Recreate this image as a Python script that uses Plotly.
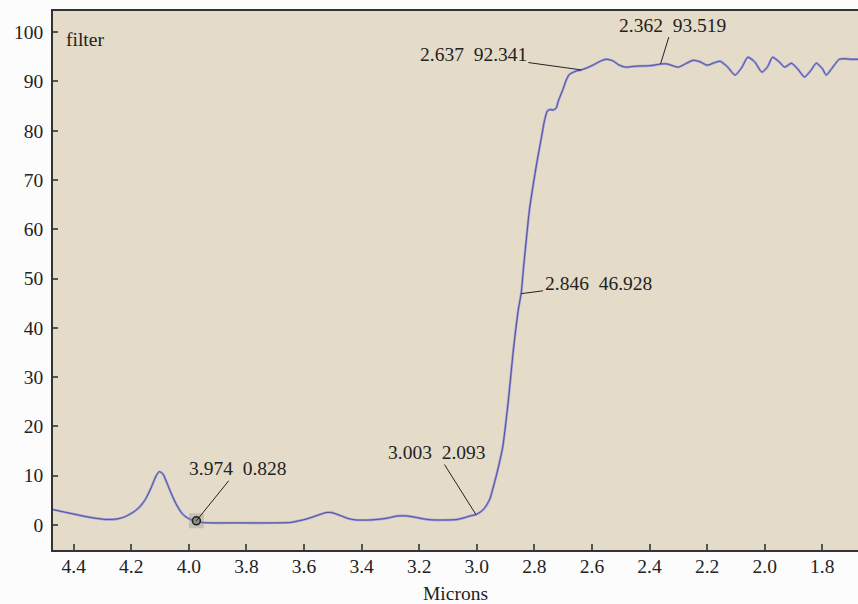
import plotly.graph_objects as go

# ---- data ----
wavelength = [
    4.472, 4.44, 4.40, 4.36, 4.33, 4.29, 4.25, 4.22, 4.19, 4.17,
    4.15, 4.13, 4.115, 4.103, 4.09, 4.079, 4.06, 4.045, 4.025, 4.01,
    3.99, 3.974, 3.955, 3.93, 3.83, 3.70, 3.645, 3.62, 3.597, 3.56,
    3.524, 3.505, 3.493, 3.47, 3.448, 3.42, 3.369, 3.33, 3.30, 3.276,
    3.241, 3.21, 3.183, 3.15, 3.10, 3.069, 3.04, 3.024, 3.003, 2.985,
    2.973, 2.955, 2.945, 2.93, 2.91, 2.89, 2.873, 2.855, 2.846, 2.838,
    2.817, 2.793, 2.776, 2.765, 2.755, 2.745, 2.735, 2.724, 2.717, 2.70,
    2.69, 2.679, 2.66, 2.648, 2.637, 2.62, 2.597, 2.575, 2.552, 2.528,
    2.505, 2.483, 2.45, 2.40, 2.362, 2.345, 2.335, 2.30, 2.275, 2.248,
    2.225, 2.20, 2.175, 2.155, 2.13, 2.103, 2.08, 2.059, 2.035, 2.01,
    1.99, 1.973, 1.95, 1.931, 1.907, 1.885, 1.862, 1.84, 1.821, 1.80,
    1.786, 1.765, 1.741, 1.72, 1.70, 1.676,
]
transmission = [
    3.1, 2.7, 2.2, 1.7, 1.4, 1.1, 1.2, 1.7, 2.7, 3.7,
    5.3, 7.7, 9.8, 10.8, 10.3, 8.9, 6.2, 4.3, 2.4, 1.6,
    1.0, 0.828, 0.5, 0.4, 0.4, 0.4, 0.5, 0.8, 1.1, 1.8,
    2.5, 2.5, 2.3, 1.8, 1.3, 1.0, 1.0, 1.2, 1.5, 1.8,
    1.8, 1.5, 1.2, 1.0, 1.0, 1.1, 1.5, 1.8, 2.093, 2.7,
    3.4, 5.2, 7.2, 10.5, 15.8, 25.5, 35.5, 44.0, 46.928, 52.0,
    64.0, 73.0, 78.5, 82.0, 84.0, 84.3, 84.2, 84.6, 86.0, 88.5,
    90.2, 91.4, 92.0, 92.2, 92.341, 92.7, 93.3, 94.0, 94.5, 94.2,
    93.3, 92.9, 93.1, 93.2, 93.519, 93.6, 93.5, 92.9, 93.6, 94.3,
    94.0, 93.3, 93.8, 94.1, 93.0, 91.3, 92.8, 94.9, 94.0, 91.9,
    93.0, 94.9, 94.0, 92.9, 93.7, 92.5, 90.9, 92.2, 93.7, 92.6,
    91.3, 92.8, 94.5, 94.6, 94.5, 94.5,
]
assert len(wavelength) == len(transmission)

label_x = [3.974, 3.003, 2.846, 2.637, 2.362]
label_y = [0.828, 2.093, 46.928, 92.341, 93.519]
label_dx = [42, -39, 77, -108, 12]
label_dy = [-52, -62, -10, -15, -39]

selected_x = [3.974]
selected_y = [0.828]

x_ticks = [4.4, 4.2, 4.0, 3.8, 3.6, 3.4, 3.2, 3.0, 2.8, 2.6, 2.4, 2.2, 2.0, 1.8]
y_ticks = [0, 10, 20, 30, 40, 50, 60, 70, 80, 90, 100]

FONT = "Liberation Serif, Times New Roman, serif"
FS = 19.5

fig = go.Figure()
fig.add_trace(go.Scatter(
    x=wavelength, y=transmission, mode="lines",
    line=dict(color="#9a9ade", width=2.4, shape="spline", smoothing=0.6),
    hoverinfo="skip", showlegend=False))
fig.add_trace(go.Scatter(
    x=wavelength, y=transmission, mode="lines",
    line=dict(color="#2a2a6a", width=0.8, shape="spline", smoothing=0.6),
    opacity=0.8, showlegend=False))
fig.add_trace(go.Scatter(
    x=selected_x, y=selected_y, mode="markers",
    marker=dict(symbol="square", size=15, color="rgba(140,140,140,0.35)",
                line=dict(width=0)),
    showlegend=False))
fig.add_trace(go.Scatter(
    x=selected_x, y=selected_y, mode="markers",
    marker=dict(symbol="circle", size=8, color="#8a8a80",
                line=dict(color="#222222", width=1.5)),
    showlegend=False))

for lx, ly, dx, dy in zip(label_x, label_y, label_dx, label_dy):
    fig.add_annotation(
        x=lx, y=ly, ax=dx, ay=dy,
        text=f"{lx:.3f}\u00a0\u00a0{ly:.3f}",
        showarrow=True, arrowhead=0, arrowwidth=1, arrowcolor="#222222",
        font=dict(family=FONT, size=FS, color="#222222"))

fig.add_annotation(
    x=0.0, y=1.0, xref="paper", yref="paper", xanchor="left", yanchor="top",
    xshift=11, yshift=-16, text="filter", showarrow=False,
    font=dict(family=FONT, size=FS, color="#222222"))

fig.update_layout(
    width=858, height=604,
    margin=dict(l=53, r=0, t=11, b=54),
    paper_bgcolor="#fcfcfc", plot_bgcolor="#e4dcc8",
    font=dict(family=FONT, size=FS, color="#222222"),
    showlegend=False,
)
fig.update_xaxes(
    range=[4.472, 1.676], tickvals=x_ticks,
    ticktext=[f"{v:.1f}" for v in x_ticks],
    ticks="inside", ticklen=6, tickcolor="#555555", tickwidth=1.5,
    ticklabelstandoff=-2,
    showgrid=False, zeroline=False,
    showline=True, linecolor="#333333", linewidth=1.5, mirror=True,
    title=dict(text="Microns", font=dict(family=FONT, size=FS), standoff=10),
)
fig.update_yaxes(
    range=[-5.1, 104.3], tickvals=y_ticks,
    ticks="inside", ticklen=5, tickcolor="#555555", tickwidth=1.5,
    ticklabelstandoff=4,
    showgrid=False, zeroline=False,
    showline=True, linecolor="#333333", linewidth=1.5,
)

fig.write_html(
    "out.html",
    config={"displayModeBar": False},
    post_script="document.body.style.margin='0';document.body.style.overflow='hidden';",
)
